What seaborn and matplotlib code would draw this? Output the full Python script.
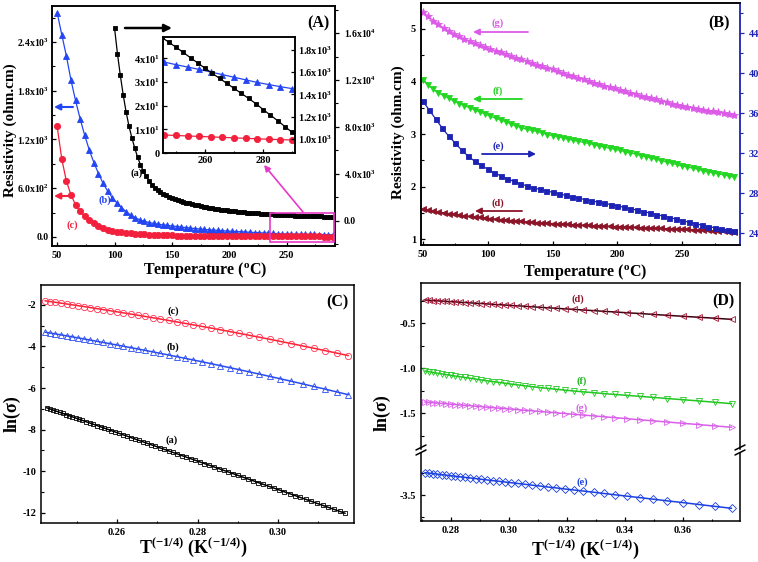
import matplotlib
matplotlib.use("Agg")
import matplotlib.pyplot as plt
import seaborn as sns
from matplotlib.patches import Rectangle, FancyArrowPatch
from matplotlib.lines import Line2D
from matplotlib.ticker import MultipleLocator

# ---------------- data ----------------
# Panel A : resistivity vs temperature
temp_a = [100, 102.5, 105, 107.5, 110, 112.5, 115, 117.5, 120, 122.5, 125, 127.5, 130, 132.5,
          135, 137.5, 140, 142.5, 145, 147.5, 150, 152.5, 155, 157.5, 160, 162.5, 165, 167.5,
          170, 172.5, 175, 177.5, 180, 182.5, 185, 187.5, 190, 192.5, 195, 197.5, 200, 202.5,
          205, 207.5, 210, 212.5, 215, 217.5, 220, 222.5, 225, 227.5, 230, 232.5, 235, 237.5,
          240, 242.5, 245, 247.5, 250, 252.5, 255, 257.5, 260, 262.5, 265, 267.5, 270, 272.5,
          275, 277.5, 280, 282.5, 285, 287.5, 290]
rho_a = [16400, 14250, 12400, 10750, 9300, 8100, 7100, 6230, 5450, 4800,
         4250, 3800, 3400, 3100, 2850, 2640, 2450, 2300, 2170, 2055,
         1950, 1862, 1780, 1708, 1640, 1573, 1510, 1448, 1390, 1333,
         1280, 1229, 1180, 1134, 1090, 1049, 1010, 974, 940, 907,
         875, 847, 820, 795, 770, 745, 720, 700, 680, 660,
         640, 622, 605, 590, 575, 560, 545, 532, 520, 507,
         495, 485, 475, 465, 455, 445, 435, 425, 415, 407,
         400, 392, 385, 377, 370, 362, 355]

temp_4 = [50, 54, 58, 62, 66, 70, 74, 78, 82, 86, 90, 94, 98, 102, 106, 110, 114, 118, 122, 126,
          130, 134, 138, 142, 146, 150, 154, 158, 162, 166, 170, 174, 178, 182, 186, 190, 194, 198,
          202, 206, 210, 214, 218, 222, 226, 230, 234, 238, 242, 246, 250, 254, 258, 262, 266, 270,
          274, 278, 282, 286, 290]
rho_b = [2760, 2490, 2230, 1932, 1680, 1455, 1250, 1070, 915, 780,
         660, 565, 485, 420, 362, 312, 270, 238, 210, 192,
         178, 167, 158, 150, 143, 136, 129, 122, 116, 110,
         104, 99, 94, 89, 85, 81, 77, 73, 70, 67,
         64, 61, 58, 55, 52, 49, 46.5, 44, 41, 38.4,
         37.3, 36.3, 35.3, 34.2, 33.1, 32.0, 30.9, 29.8, 28.9, 28.0,
         27.2]
rho_c = [1360, 960, 690, 520, 395, 315, 255, 205, 168, 130,
         108, 90, 76, 65, 56, 49, 43, 38, 34, 31,
         28, 26, 24, 22, 20, 19, 18, 17, 16, 15.2,
         14.5, 13.8, 13.2, 12.6, 12.1, 11.7, 11.3, 10.9, 10.6, 10.2,
         9.9, 9.6, 9.3, 9.1, 8.9, 8.7, 8.4, 8.1, 7.85, 7.6,
         7.4, 7.2, 7.0, 6.8, 6.6, 6.4, 6.2, 6.0, 5.8, 5.65,
         5.5]

temp_a_inset = [245, 247.5, 250, 252.5, 255, 257.5, 260, 262.5, 265, 267.5, 270, 272.5,
                275, 277.5, 280, 282.5, 285, 287.5, 290]
rho_a_inset = [1915, 1870, 1825, 1778, 1730, 1683, 1636, 1590, 1545, 1500, 1455, 1410,
               1365, 1318, 1265, 1215, 1165, 1112, 1060]

# Panel B
rho_g = [5.32, 5.24, 5.16, 5.09, 5.02, 4.96, 4.91, 4.86, 4.81, 4.77,
         4.73, 4.69, 4.66, 4.62, 4.59, 4.56, 4.52, 4.49, 4.45, 4.42,
         4.39, 4.35, 4.32, 4.29, 4.26, 4.23, 4.20, 4.16, 4.13, 4.10,
         4.07, 4.04, 4.01, 3.98, 3.95, 3.92, 3.90, 3.87, 3.84, 3.81,
         3.78, 3.76, 3.73, 3.71, 3.68, 3.66, 3.63, 3.61, 3.58, 3.56,
         3.54, 3.52, 3.50, 3.48, 3.46, 3.44, 3.43, 3.41, 3.40, 3.38,
         3.37]
rho_f = [4.03, 3.93, 3.85, 3.78, 3.73, 3.68, 3.63, 3.58, 3.54, 3.50,
         3.46, 3.42, 3.38, 3.34, 3.30, 3.27, 3.23, 3.19, 3.15, 3.12,
         3.09, 3.07, 3.05, 3.02, 2.99, 2.97, 2.95, 2.93, 2.90, 2.88,
         2.86, 2.84, 2.82, 2.80, 2.77, 2.75, 2.73, 2.71, 2.69, 2.66,
         2.64, 2.62, 2.59, 2.57, 2.54, 2.52, 2.49, 2.47, 2.44, 2.42,
         2.39, 2.37, 2.35, 2.33, 2.30, 2.28, 2.26, 2.24, 2.22, 2.20,
         2.18]
rho_d = [1.57, 1.55, 1.53, 1.515, 1.50, 1.485, 1.47, 1.455, 1.44, 1.43,
         1.42, 1.41, 1.40, 1.39, 1.38, 1.37, 1.36, 1.352, 1.344, 1.336,
         1.328, 1.32, 1.313, 1.306, 1.30, 1.294, 1.288, 1.283, 1.278, 1.273,
         1.268, 1.263, 1.258, 1.254, 1.25, 1.246, 1.242, 1.238, 1.234, 1.23,
         1.226, 1.222, 1.218, 1.214, 1.21, 1.206, 1.202, 1.198, 1.194, 1.19,
         1.186, 1.182, 1.178, 1.173, 1.168, 1.163, 1.157, 1.151, 1.145, 1.139,
         1.133]
temp_5 = [50, 55, 60, 65, 70, 75, 80, 85, 90, 95, 100, 105, 110, 115, 120, 125, 130, 135,
          140, 145, 150, 155, 160, 165, 170, 175, 180, 185, 190, 195, 200, 205, 210, 215,
          220, 225, 230, 235, 240, 245, 250, 255, 260, 265, 270, 275, 280, 285, 290]
rho_e = [37.2, 36.3, 35.4, 34.5, 33.7, 33.0, 32.3, 31.7, 31.2, 30.8,
         30.4, 30.05, 29.75, 29.45, 29.2, 28.95, 28.75, 28.55, 28.4, 28.25,
         28.1, 27.95, 27.8, 27.65, 27.5, 27.38, 27.25, 27.12, 27.0, 26.87,
         26.74, 26.6, 26.46, 26.32, 26.18, 26.03, 25.88, 25.73, 25.58, 25.43,
         25.27, 25.12, 24.97, 24.82, 24.68, 24.55, 24.44, 24.35, 24.28]

# Panel C : ln(sigma) vs T^(-1/4)
x_bc = [0.2421, 0.2434, 0.2447, 0.2461, 0.2475, 0.2489, 0.2504, 0.2519, 0.2534, 0.2550,
        0.2566, 0.2582, 0.2599, 0.2616, 0.2634, 0.2652, 0.2670, 0.2689, 0.2708, 0.2728,
        0.2748, 0.2769, 0.2790, 0.2812, 0.2834, 0.2857, 0.2880, 0.2904, 0.2929, 0.2954,
        0.2980, 0.3006, 0.3033, 0.3061, 0.3089, 0.3118, 0.3147, 0.3175]
ln_c = [-1.800, -1.837, -1.873, -1.914, -1.954, -1.995, -2.039, -2.083, -2.128, -2.177,
        -2.226, -2.275, -2.328, -2.381, -2.439, -2.496, -2.555, -2.617, -2.680, -2.747,
        -2.815, -2.887, -2.960, -3.037, -3.115, -3.197, -3.281, -3.369, -3.462, -3.556,
        -3.655, -3.756, -3.861, -3.972, -4.085, -4.203, -4.322, -4.439]
ln_b = [-3.310, -3.353, -3.396, -3.444, -3.491, -3.539, -3.590, -3.642, -3.695, -3.751,
        -3.808, -3.865, -3.927, -3.989, -4.055, -4.122, -4.189, -4.261, -4.333, -4.410,
        -4.488, -4.570, -4.653, -4.741, -4.830, -4.924, -5.019, -5.119, -5.225, -5.331,
        -5.443, -5.556, -5.675, -5.800, -5.926, -6.059, -6.192, -6.323]
x_a = [0.2425, 0.2433, 0.2441, 0.2449, 0.2457, 0.2465, 0.2473, 0.2481, 0.2489, 0.2497, 0.2505,
       0.2514, 0.2523, 0.2532, 0.2541, 0.2550, 0.2559, 0.2568, 0.2577, 0.2586, 0.2595,
       0.2605, 0.2615, 0.2625, 0.2635, 0.2645, 0.2655, 0.2665, 0.2675, 0.2685, 0.2695,
       0.2706, 0.2717, 0.2728, 0.2739, 0.2750, 0.2761, 0.2772, 0.2783, 0.2794, 0.2805,
       0.2817, 0.2829, 0.2841, 0.2853, 0.2865, 0.2877, 0.2889, 0.2901, 0.2913, 0.2925,
       0.2938, 0.2951, 0.2964, 0.2977, 0.2990, 0.3003, 0.3016, 0.3029, 0.3042, 0.3055,
       0.3069, 0.3083, 0.3097, 0.3111, 0.3125, 0.3139, 0.3153, 0.3167]
ln_a = [-6.950, -7.005, -7.060, -7.114, -7.169, -7.224, -7.279, -7.334, -7.388, -7.443, -7.498,
        -7.560, -7.621, -7.683, -7.745, -7.806, -7.868, -7.930, -7.991, -8.053, -8.115,
        -8.183, -8.252, -8.320, -8.389, -8.457, -8.526, -8.594, -8.663, -8.731, -8.800,
        -8.875, -8.950, -9.026, -9.101, -9.176, -9.252, -9.327, -9.402, -9.478, -9.553,
        -9.635, -9.717, -9.800, -9.882, -9.964, -10.046, -10.128, -10.211, -10.293, -10.375,
        -10.464, -10.553, -10.642, -10.731, -10.820, -10.909, -10.998, -11.087, -11.176, -11.266,
        -11.361, -11.457, -11.553, -11.649, -11.745, -11.841, -11.937, -12.033]

# Panel D
x_D = [0.2710, 0.2724, 0.2738, 0.2753, 0.2768, 0.2783, 0.2799, 0.2815, 0.2832, 0.2849,
       0.2867, 0.2885, 0.2904, 0.2924, 0.2944, 0.2965, 0.2987, 0.3009, 0.3032, 0.3056,
       0.3081, 0.3107, 0.3134, 0.3163, 0.3193, 0.3224, 0.3257, 0.3292, 0.3328, 0.3367,
       0.3408, 0.3451, 0.3497, 0.3546, 0.3599, 0.3656, 0.3712, 0.3768]
ln_d = [-0.241, -0.244, -0.247, -0.250, -0.253, -0.256, -0.259, -0.262, -0.266, -0.269,
        -0.273, -0.277, -0.280, -0.284, -0.289, -0.293, -0.297, -0.302, -0.306, -0.311,
        -0.316, -0.322, -0.327, -0.333, -0.339, -0.345, -0.352, -0.359, -0.367, -0.374,
        -0.383, -0.391, -0.401, -0.411, -0.422, -0.433, -0.444, -0.456]
ln_f = [-1.030, -1.038, -1.046, -1.054, -1.062, -1.070, -1.078, -1.086, -1.094, -1.102,
        -1.111, -1.120, -1.129, -1.138, -1.147, -1.157, -1.166, -1.176, -1.185, -1.195,
        -1.205, -1.214, -1.224, -1.233, -1.243, -1.252, -1.262, -1.271, -1.281, -1.291,
        -1.301, -1.312, -1.323, -1.336, -1.349, -1.363, -1.378, -1.393]
ln_g = [-1.375, -1.379, -1.382, -1.386, -1.390, -1.394, -1.399, -1.403, -1.407, -1.412,
        -1.416, -1.421, -1.426, -1.432, -1.437, -1.443, -1.448, -1.454, -1.460, -1.467,
        -1.473, -1.480, -1.487, -1.495, -1.503, -1.511, -1.520, -1.529, -1.539, -1.549,
        -1.560, -1.572, -1.584, -1.597, -1.611, -1.626, -1.641, -1.655]
ln_e = [-3.252, -3.257, -3.262, -3.268, -3.274, -3.279, -3.285, -3.291, -3.298, -3.304,
        -3.311, -3.317, -3.325, -3.332, -3.340, -3.347, -3.356, -3.364, -3.372, -3.381,
        -3.391, -3.400, -3.411, -3.421, -3.433, -3.444, -3.456, -3.469, -3.483, -3.498,
        -3.513, -3.529, -3.546, -3.565, -3.584, -3.606, -3.627, -3.648]

# ---------------- style ----------------
sns.set_theme(style="ticks")
plt.rcParams.update({
    'font.family': ['Liberation Serif', 'DejaVu Serif'],
    'font.weight': 'bold',
    'axes.labelweight': 'bold',
    'mathtext.fontset': 'custom',
    'mathtext.rm': 'Liberation Serif:bold',
    'mathtext.it': 'Liberation Serif:bold:italic',
    'mathtext.bf': 'Liberation Serif:bold',
    'mathtext.default': 'rm',
    'axes.unicode_minus': False,
    'axes.edgecolor': 'black', 'axes.linewidth': 1.1,
    'xtick.color': 'black', 'ytick.color': 'black',
    'text.color': 'black', 'axes.labelcolor': 'black',
    'xtick.direction': 'in', 'ytick.direction': 'in',
    'xtick.major.size': 3, 'ytick.major.size': 3,
    'xtick.minor.size': 1.8, 'ytick.minor.size': 1.8,
    'xtick.major.width': 0.9, 'ytick.major.width': 0.9,
    'xtick.minor.width': 0.8, 'ytick.minor.width': 0.8,
    'xtick.labelsize': 7.5, 'ytick.labelsize': 7.5,
    'axes.facecolor': 'white', 'figure.facecolor': 'white',
})

W, H = 758, 562
fig = plt.figure(figsize=(W / 100, H / 100), dpi=100)


def rect(l, t, r, b):
    return [l / W, 1 - b / H, (r - l) / W, (b - t) / H]


def ff(x, y):
    return (x / W, 1 - y / H)


def farrow(x0, y0, x1, y1, color, lw=1.3, ms=9):
    fig.add_artist(FancyArrowPatch(ff(x0, y0), ff(x1, y1), transform=fig.transFigure,
                                   arrowstyle='-|>', mutation_scale=ms, color=color, lw=lw,
                                   shrinkA=0, shrinkB=0))


def ftext(x, y, s, color='black', size=7.5):
    fig.text(x / W, 1 - y / H, s, color=color, fontsize=size, ha='center', va='center',
             fontweight='bold')


def series(ax, x, y, color, marker, ms, hollow=False, lc=None, lw=0.9, mew=0.6):
    sns.lineplot(x=x, y=y, ax=ax, color=lc if lc else color, marker=marker, markersize=ms,
                 markeredgecolor=color, markerfacecolor='none' if hollow else color,
                 markeredgewidth=mew, linewidth=lw)


BLUE_A = '#2446f2'
RED_A = '#f2203c'
MAG = '#e838c8'
G_MAG = '#dc5ae8'
F_GRN = '#22d622'
E_NAVY = '#1c22b4'
D_MAR = '#8c1428'

# ---------------- panel A ----------------
axA = fig.add_axes(rect(52, 6, 335, 246))
axA2 = axA.twinx()
series(axA, temp_4, rho_b, BLUE_A, '^', 5)
series(axA, temp_4, rho_c, RED_A, 'o', 4.5)
series(axA2, temp_a, rho_a, 'black', 's', 3.2)
axA.set_xlim(45.5, 292)
axA.set_ylim(-111, 2843)
axA2.set_ylim(-2128, 18298)
axA.set_xticks([50, 100, 150, 200, 250], ['50', '100', '150', '200', '250'])
axA.xaxis.set_minor_locator(MultipleLocator(25))
axA.set_yticks([0, 600, 1200, 1800, 2400],
               ['0.0', '6.0x10$^{2}$', '1.2x10$^{3}$', '1.8x10$^{3}$', '2.4x10$^{3}$'])
axA.yaxis.set_minor_locator(MultipleLocator(300))
axA2.set_yticks([0, 4000, 8000, 12000, 16000],
                ['0.0', '4.0x10$^{3}$', '8.0x10$^{3}$', '1.2x10$^{4}$', '1.6x10$^{4}$'])
axA2.yaxis.set_minor_locator(MultipleLocator(2000))
axA.tick_params(which='both', direction='in', top=False, right=False)
axA.tick_params(axis='y', labelsize=7, pad=2.5)
axA2.tick_params(axis='y', which='both', direction='out', labelsize=7)
axA.set_xlabel('Temperature ($^{\\mathrm{o}}$C)', fontsize=11.5)
axA.set_ylabel('Resistivity (ohm.cm)', fontsize=11)
axA.xaxis.set_label_coords(0.54, -0.058)
axA.yaxis.set_label_coords(-0.125, 0.483)
axA2.set_ylabel('')

# inset
axI = fig.add_axes(rect(163, 37, 295, 153))
axI.set_facecolor('white')
axI2 = axI.twinx()
series(axI, temp_4, rho_b, BLUE_A, '^', 4.5)
series(axI, temp_4, rho_c, RED_A, 'o', 4.5)
series(axI2, temp_a_inset, rho_a_inset, 'black', 's', 3.2)
axI.set_xlim(245.5, 291)
axI.set_ylim(0, 49)
axI2.set_ylim(874, 1917)
axI.set_xticks([260, 280], ['260', '280'])
axI.xaxis.set_minor_locator(MultipleLocator(10))
axI.set_yticks([0, 10, 20, 30, 40],
               ['0', '1x10$^{1}$', '2x10$^{1}$', '3x10$^{1}$', '4x10$^{1}$'])
axI2.set_yticks([1000, 1200, 1400, 1600, 1800],
                ['1.0x10$^{3}$', '1.2x10$^{3}$', '1.4x10$^{3}$', '1.6x10$^{3}$', '1.8x10$^{3}$'])
axI.tick_params(which='both', direction='in', top=False, right=False, pad=2)
axI2.tick_params(axis='y', which='both', direction='in', pad=2)
axI.set_xlabel('')
axI.set_ylabel('')
axI2.set_ylabel('')

fig.add_artist(Rectangle(ff(270, 242), 64 / W, 29 / H, transform=fig.transFigure,
                         fill=False, ec=MAG, lw=1.2))
farrow(303, 212, 264, 165, MAG, lw=1.2, ms=9)
farrow(125, 28, 172, 28, 'black', lw=1.8, ms=11)
farrow(73, 107, 54, 107, BLUE_A, lw=1.5, ms=9)
farrow(70, 196, 54, 196, RED_A, lw=1.5, ms=9)
ftext(137, 173, '(a)', 'black')
ftext(105, 200, '(b)', BLUE_A)
ftext(72, 225, '(c)', RED_A)
ftext(318, 23, '(A)', 'black', 11.5)

# ---------------- panel B ----------------
axB = fig.add_axes(rect(421, 3, 740, 245))
axB2 = axB.twinx()
series(axB, temp_4, rho_g, G_MAG, '*', 6)
series(axB, temp_4, rho_f, F_GRN, 'v', 4.5)
series(axB, temp_4, rho_d, D_MAR, '<', 4.5)
series(axB2, temp_5, rho_e, E_NAVY, 's', 3.6)
axB.set_xlim(48.5, 294.6)
axB.set_ylim(0.886, 5.495)
axB2.set_ylim(22.83, 47.03)
axB.set_xticks([50, 100, 150, 200, 250], ['50', '100', '150', '200', '250'])
axB.xaxis.set_minor_locator(MultipleLocator(25))
axB.set_yticks([1, 2, 3, 4, 5], ['1', '2', '3', '4', '5'])
axB.yaxis.set_minor_locator(MultipleLocator(0.5))
axB2.set_yticks([24, 28, 32, 36, 40, 44], ['24', '28', '32', '36', '40', '44'])
axB2.yaxis.set_minor_locator(MultipleLocator(2))
axB.tick_params(which='both', direction='in', top=False, right=False)
axB2.tick_params(axis='y', which='both', direction='out', colors=E_NAVY)
axB.spines['right'].set_visible(False)
axB2.spines['right'].set_color(E_NAVY)
axB2.spines['right'].set_linewidth(1.3)
axB.set_xlabel('Temperature ($^{\\mathrm{o}}$C)', fontsize=11.5)
axB.set_ylabel('Resistivity (ohm.cm)', fontsize=11)
axB.xaxis.set_label_coords(0.514, -0.07)
axB.yaxis.set_label_coords(-0.05, 0.467)
axB2.set_ylabel('')

farrow(528, 32, 473, 32, G_MAG, lw=1.3)
farrow(522, 99, 473, 99, F_GRN, lw=1.3)
farrow(482, 154, 536, 154, E_NAVY, lw=1.3)
farrow(522, 211, 475, 211, D_MAR, lw=1.3)
ftext(498, 23, '(g)', G_MAG)
ftext(498, 91, '(f)', F_GRN)
ftext(498, 146, '(e)', E_NAVY)
ftext(498, 203, '(d)', D_MAR)
ftext(719, 23, '(B)', 'black', 11.5)

# ---------------- panel C ----------------
axC = fig.add_axes(rect(41, 285, 354, 523))
series(axC, x_bc, ln_c, '#ff3355', 'o', 4.5, hollow=True, lc='#ff2030', lw=1.1)
series(axC, x_bc, ln_b, '#2a4cf0', '^', 4.5, hollow=True, lc='#2a4cf0', lw=1.1)
series(axC, x_a, ln_a, 'black', 's', 3.3, hollow=True, lc='black', lw=1.1)
axC.set_xlim(0.2411, 0.3189)
axC.set_ylim(-12.5, -1.04)
axC.set_xticks([0.26, 0.28, 0.30], ['0.26', '0.28', '0.30'])
axC.xaxis.set_minor_locator(MultipleLocator(0.01))
axC.set_yticks([-12, -10, -8, -6, -4, -2], ['-12', '-10', '-8', '-6', '-4', '-2'])
axC.yaxis.set_minor_locator(MultipleLocator(1))
axC.tick_params(which='both', direction='in', top=False, right=False)
axC.set_xlabel('T$^{(-1/4)}$ (K$^{(-1/4)}$)', fontsize=13)
axC.set_ylabel('ln(σ)', fontsize=13)
axC.xaxis.set_label_coords(0.486, -0.055)
axC.yaxis.set_label_coords(-0.064, 0.458)
ftext(173, 311, '(c)')
ftext(173, 347, '(b)')
ftext(172, 440, '(a)')
ftext(337, 302, '(C)', 'black', 11.5)

# ---------------- panel D (broken y axis) ----------------
axD1 = fig.add_axes(rect(421, 283, 740, 449))
axD2 = fig.add_axes(rect(421, 453, 740, 521))
for ax in (axD1, axD2):
    series(ax, x_D, ln_d, '#a01030', '<', 4.5, hollow=True, lc='#3c0010', lw=1.1)
    series(ax, x_D, ln_f, '#20c820', 'v', 4.5, hollow=True, lc='#20c820', lw=1.1)
    series(ax, x_D, ln_g, '#d860e8', '>', 4.5, hollow=True, lc='#d860e8', lw=1.1)
    series(ax, x_D, ln_e, '#1a40e0', 'D', 3.8, hollow=True, lc='#1a40e0', lw=1.1)
    ax.set_xlim(0.2697, 0.3797)
    ax.xaxis.set_minor_locator(MultipleLocator(0.01))
    ax.tick_params(which='both', direction='in', top=False, right=False)
    ax.set_xlabel('')
    ax.set_ylabel('')
axD1.set_ylim(-1.897, -0.052)
axD2.set_ylim(-3.789, -3.033)
axD1.spines['bottom'].set_visible(False)
axD2.spines['top'].set_visible(False)
axD1.tick_params(axis='x', which='both', bottom=False, labelbottom=False)
axD2.set_xticks([0.28, 0.30, 0.32, 0.34, 0.36], ['0.28', '0.30', '0.32', '0.34', '0.36'])
axD1.set_yticks([-1.5, -1.0, -0.5], ['-1.5', '-1.0', '-0.5'])
axD1.yaxis.set_minor_locator(MultipleLocator(0.25))
axD2.set_yticks([-3.5], ['-3.5'])
axD2.set_yticks([-3.75, -3.25], minor=True)
axD2.set_xlabel('T$^{(-1/4)}$ (K$^{(-1/4)}$)', fontsize=13)
axD2.xaxis.set_label_coords(0.514, -0.25)
axD1.set_ylabel('ln(σ)', fontsize=13)
axD1.yaxis.set_label_coords(-0.094, 0.217)

for xs in (421, 740):
    for yo in (0, 5):
        fig.add_artist(Line2D([(xs - 5) / W, (xs + 5) / W],
                              [1 - (450 + yo) / H, 1 - (445 + yo) / H],
                              transform=fig.transFigure, color='black', lw=1.1))

ftext(578, 299, '(d)', '#8c1428')
ftext(582, 381, '(f)', '#20b820')
ftext(582, 408, '(g)', '#d860e8')
ftext(582, 482, '(e)', '#1a40e0')
ftext(723, 301, '(D)', 'black', 11.5)

fig.savefig('out.png', dpi=100)
